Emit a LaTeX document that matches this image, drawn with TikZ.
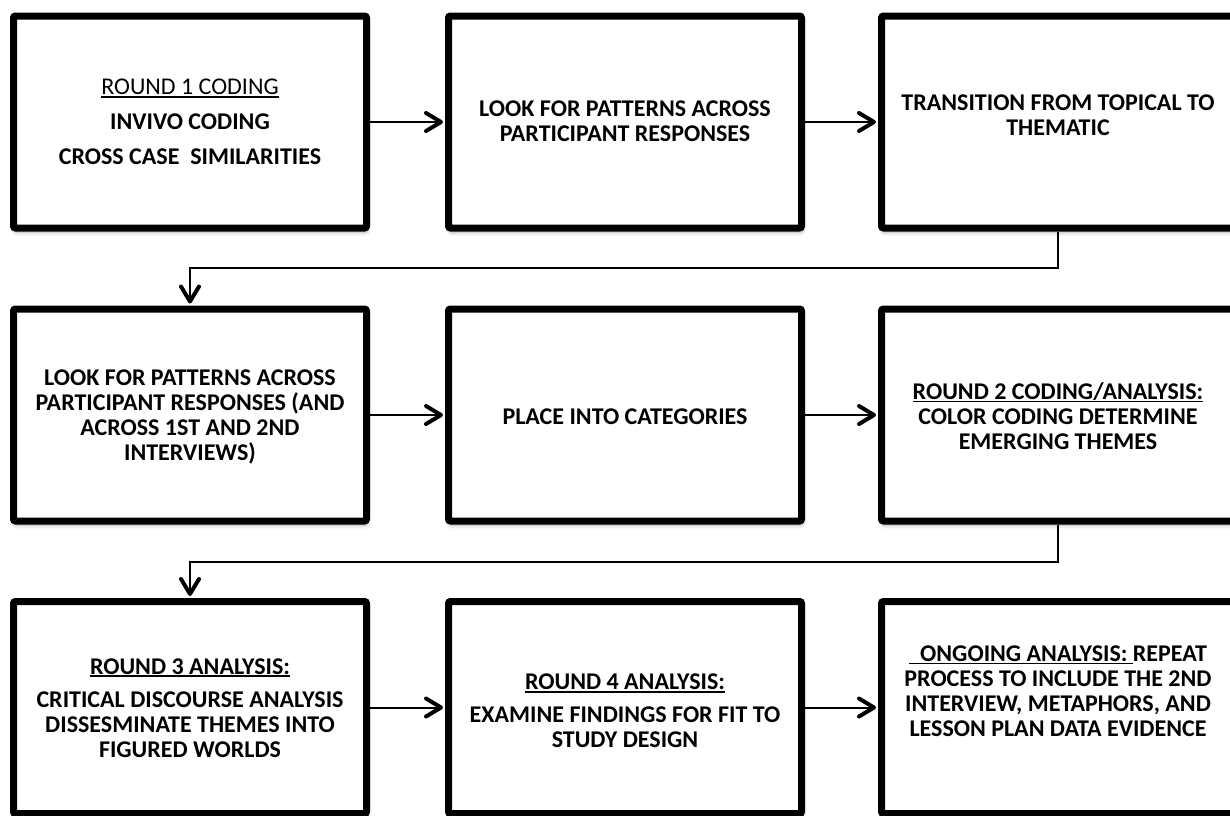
\documentclass[tikz,border=0pt]{standalone}
\usepackage{fontspec}
\setmainfont{Carlito}
\usetikzlibrary{arrows.meta,shadows.blur}

% underline drawn as a rule under the whole box of its argument
\newcommand\hdul[1]{\setbox0\hbox{#1}\rlap{\rule[-3pt]{\wd0}{1.8pt}}\box0}

\tikzset{
  stage/.style={draw=black, line width=7pt, fill=white, rounded corners=2pt,
    minimum width=353pt, minimum height=212pt, inner sep=0pt,
    blur shadow={shadow xshift=1pt, shadow yshift=-4pt,
      shadow blur radius=4pt, shadow opacity=35}},
  caption/.style={align=center, inner sep=0pt,
    font=\fontsize{24}{25}\selectfont\bfseries},
  flow/.style={line width=2pt,
    -{Straight Barb[length=15pt,width=18pt,line width=4pt,round]},
    shorten >=2pt},
}

\begin{document}
\begin{tikzpicture}[x=1pt,y=-1pt]
\useasboundingbox (0,0) rectangle (1230,815);
\clip (0,0) rectangle (1230,815);

% boxes
\node[stage] (b1) at (190,122) {};
\node[stage] (b2) at (625,122) {};
\node[stage] (b3) at (1058,122) {};
\node[stage] (b4) at (190,415) {};
\node[stage] (b5) at (625,415) {};
\node[stage] (b6) at (1058,415) {};
\node[stage] (b7) at (190,707.5) {};
\node[stage] (b8) at (625,707.5) {};
\node[stage] (b9) at (1058,707.5) {};

% box texts
\node[caption] (t1) at (190,122)
  {\hdul{\mdseries ROUND 1 CODING}\\[10pt]INVIVO CODING\\[10pt]CROSS CASE\ \ SIMILARITIES};
\node[caption] (t2) at (625,121.5)
  {LOOK FOR PATTERNS ACROSS\\PARTICIPANT RESPONSES};
\node[caption] (t3) at (1058,115)
  {TRANSITION FROM TOPICAL TO\\THEMATIC};
\node[caption] (t4) at (190,416.5)
  {LOOK FOR PATTERNS ACROSS\\PARTICIPANT RESPONSES (AND\\ACROSS 1ST AND 2ND\\INTERVIEWS)};
\node[caption] (t5) at (625,417)
  {PLACE INTO CATEGORIES};
\node[caption] (t6) at (1058,416)
  {\hdul{ROUND 2 CODING/ANALYSIS:}\\COLOR CODING DETERMINE\\EMERGING THEMES};
\node[caption] (t7) at (190,708)
  {\hdul{ROUND 3 ANALYSIS:}\\[8pt]CRITICAL DISCOURSE ANALYSIS\\DISSESMINATE THEMES INTO\\FIGURED WORLDS};
\node[caption] (t8) at (625,711)
  {\hdul{ROUND 4 ANALYSIS:}\\[8pt]EXAMINE FINDINGS FOR FIT TO\\STUDY DESIGN};
\node[caption] (t9) at (1058,691)
  {\hdul{\hspace{11pt}ONGOING ANALYSIS:\ }REPEAT\\PROCESS TO INCLUDE THE 2ND\\INTERVIEW, METAPHORS, AND\\LESSON PLAN DATA EVIDENCE};

% connectors within rows
\draw[flow] (b1.east) -- (b2.west);
\draw[flow] (b2.east) -- (b3.west);
\draw[flow] (b4.east) -- (b5.west);
\draw[flow] (b5.east) -- (b6.west);
\draw[flow] (b7.east) -- (b8.west);
\draw[flow] (b8.east) -- (b9.west);

% connectors between rows
\coordinate (k1) at (1058,268);
\coordinate (k2) at (1058,562);
\draw[flow] (b3.south) -- (k1) -| (b4.north);
\draw[flow] (b6.south) -- (k2) -| (b7.north);
\end{tikzpicture}
\end{document}
